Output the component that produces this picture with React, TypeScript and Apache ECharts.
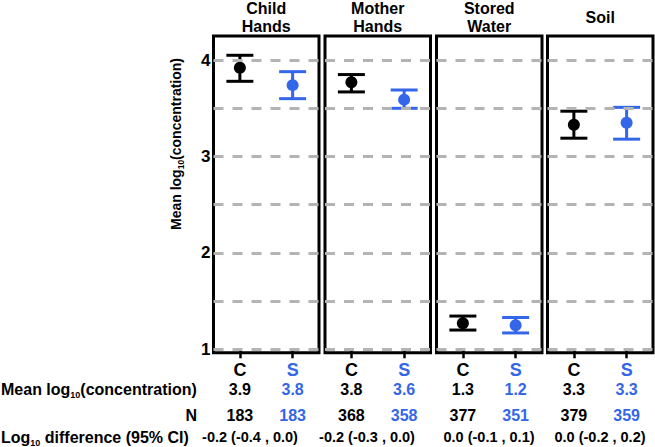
import React, { useEffect, useRef } from 'react';
import * as echarts from 'echarts';

// ---------- data ----------
const panels = ['Child\nHands', 'Mother\nHands', 'Stored\nWater', 'Soil'];
const groups = ['C', 'S'];
const meanC = [3.92, 3.77, 1.27, 3.33];
const lowC = [3.78, 3.67, 1.2, 3.19];
const highC = [4.05, 3.85, 1.345, 3.47];
const meanS = [3.74, 3.59, 1.25, 3.35];
const lowS = [3.6, 3.5, 1.17, 3.18];
const highS = [3.88, 3.69, 1.33, 3.51];
const meanLabelC = ['3.9', '3.8', '1.3', '3.3'];
const meanLabelS = ['3.8', '3.6', '1.2', '3.3'];
const nC = ['183', '368', '377', '379'];
const nS = ['183', '358', '351', '359'];
const diffLabels = ['-0.2 (-0.4 , 0.0)', '-0.2 (-0.3 , 0.0)', '0.0 (-0.1 , 0.1)', '0.0 (-0.2 , 0.2)'];
const gridLevels = [1, 1.5, 2, 2.5, 3, 3.5, 4];
const yTickLabels = [1, 2, 3, 4];

// ---------- layout / style ----------
const W = 655;
const H = 447;
const FONT = '"Liberation Sans", Arial, sans-serif';
const BLACK = '#000000';
const BLUE = '#3366e8';
const GRAY = '#b4b4b4';
const gridLeft = [213.5, 325, 436.5, 547.5];
const gridW = 105.5;
const gridTop = 36;
const gridH = 316.8;
const yMin = 0.964;
const yMax = 4.25;
const diffX = [250, 367, 489, 600];

export default function App() {
  const ref = useRef<HTMLDivElement>(null);

  useEffect(() => {
    if (!ref.current) return;
    const chart = echarts.init(ref.current, null, { renderer: 'svg' });

    const grids: any[] = [];
    const xAxes: any[] = [];
    const yAxes: any[] = [];
    const series: any[] = [];
    const graphics: any[] = [];

    panels.forEach((name, i) => {
      grids.push({
        left: gridLeft[i],
        top: gridTop,
        width: gridW,
        height: gridH,
        show: true,
        borderColor: BLACK,
        borderWidth: 3,
        backgroundColor: 'transparent',
      });
      xAxes.push({
        type: 'category',
        gridIndex: i,
        data: groups,
        offset: -3.5,
        axisLine: { show: false },
        axisTick: { show: true, alignWithLabel: true, length: 9, lineStyle: { color: BLACK, width: 2.5 } },
        axisLabel: {
          margin: 20.7,
          verticalAlign: 'middle',
          lineHeight: 16,
          fontFamily: FONT,
          fontWeight: 'bold',
          fontSize: 18,
          color: (v: string) => (v === 'S' ? BLUE : BLACK),
        },
        splitLine: { show: false },
      });
      yAxes.push({
        type: 'value',
        gridIndex: i,
        min: yMin,
        max: yMax,
        axisLine: { show: false },
        axisTick: { show: false },
        splitLine: { show: false },
        axisLabel: {
          show: i === 0,
          customValues: yTickLabels,
          margin: 3,
          fontFamily: FONT,
          fontWeight: 'bold',
          fontSize: 17,
          color: BLACK,
        },
      });
      // dashed gridlines
      series.push({
        type: 'scatter',
        xAxisIndex: i,
        yAxisIndex: i,
        data: [],
        z: 1,
        silent: true,
        markLine: {
          silent: true,
          symbol: ['none', 'none'],
          label: { show: false },
          emphasis: { disabled: true },
          lineStyle: { color: GRAY, width: 3, type: [10, 9] },
          data: gridLevels.map((v) => ({ yAxis: v })),
        },
      });
      // error bars
      series.push({
        type: 'custom',
        xAxisIndex: i,
        yAxisIndex: i,
        z: 3,
        silent: true,
        data: [
          [0, lowC[i], highC[i]],
          [1, lowS[i], highS[i]],
        ],
        encode: { x: 0, y: [1, 2] },
        renderItem: (params: any, api: any) => {
          const x = api.value(0);
          const pLo = api.coord([x, api.value(1)]);
          const pHi = api.coord([x, api.value(2)]);
          const color = params.dataIndex === 0 ? BLACK : BLUE;
          const hw = 13.5;
          const style = { stroke: color, lineWidth: 3 };
          return {
            type: 'group',
            children: [
              { type: 'line', shape: { x1: pLo[0], y1: pLo[1], x2: pHi[0], y2: pHi[1] }, style },
              { type: 'line', shape: { x1: pLo[0] - hw, y1: pLo[1], x2: pLo[0] + hw, y2: pLo[1] }, style },
              { type: 'line', shape: { x1: pHi[0] - hw, y1: pHi[1], x2: pHi[0] + hw, y2: pHi[1] }, style },
            ],
          };
        },
      });
      // mean points
      series.push({
        type: 'scatter',
        xAxisIndex: i,
        yAxisIndex: i,
        z: 4,
        silent: true,
        symbol: 'circle',
        symbolSize: 12,
        data: [
          [0, meanC[i]],
          [1, meanS[i]],
        ],
        itemStyle: { color: (p: any) => (p.dataIndex === 0 ? BLACK : BLUE), opacity: 1 },
      });

      const cx = gridLeft[i] + gridW / 2;
      const xC = gridLeft[i] + gridW / 4;
      const xS = gridLeft[i] + (gridW * 3) / 4;
      const lines = name.split('\n');
      const lineYs = lines.length === 1 ? [17] : [8.5, 26.5];
      lines.forEach((ln, k) => {
        graphics.push({
          type: 'text',
          x: cx,
          y: lineYs[k],
          style: {
            text: ln,
            fill: BLACK,
            font: `bold 16px ${FONT}`,
            align: 'center',
            verticalAlign: 'middle',
            lineHeight: 16,
          },
        });
      });
      const valRows: [string, string, number][] = [
        [meanLabelC[i], meanLabelS[i], 389.5],
        [nC[i], nS[i], 415],
      ];
      valRows.forEach(([c, s, y]) => {
        graphics.push({
          type: 'text',
          x: xC,
          y,
          style: { text: c, fill: BLACK, font: `bold 16px ${FONT}`, align: 'center', verticalAlign: 'middle' },
        });
        graphics.push({
          type: 'text',
          x: xS,
          y,
          style: { text: s, fill: BLUE, font: `bold 16px ${FONT}`, align: 'center', verticalAlign: 'middle' },
        });
      });
      graphics.push({
        type: 'text',
        x: diffX[i],
        y: 437,
        style: {
          text: diffLabels[i],
          fill: BLACK,
          font: `bold 14.5px ${FONT}`,
          align: 'center',
          verticalAlign: 'middle',
        },
      });
    });

    const richMain = (size: number, sub: number, lh: number) => ({
      m: { fontFamily: FONT, fontWeight: 'bold', fontSize: size, lineHeight: lh, fill: BLACK, color: BLACK },
      s: {
        fontFamily: FONT,
        fontWeight: 'bold',
        fontSize: sub,
        lineHeight: sub,
        verticalAlign: 'bottom',
        fill: BLACK,
        color: BLACK,
      },
    });

    // row labels
    graphics.push({
      type: 'text',
      x: 1,
      y: 389.5,
      style: {
        text: '{m|Mean log}{s|10}{m|(concentration)}',
        rich: richMain(16, 9, 20),
        align: 'left',
        verticalAlign: 'middle',
      },
    });
    graphics.push({
      type: 'text',
      x: 197,
      y: 415,
      style: { text: 'N', fill: BLACK, font: `bold 16px ${FONT}`, align: 'right', verticalAlign: 'middle' },
    });
    graphics.push({
      type: 'text',
      x: 1,
      y: 437,
      style: {
        text: '{m|Log}{s|10}{m| difference (95% CI)}',
        rich: richMain(16, 9, 20),
        align: 'left',
        verticalAlign: 'middle',
      },
    });
    // y axis title
    graphics.push({
      type: 'text',
      x: 176,
      y: 144,
      rotation: Math.PI / 2,
      style: {
        text: '{m|Mean log}{s|10}{m|(concentration)}',
        rich: richMain(14, 8.5, 18),
        align: 'center',
        verticalAlign: 'middle',
      },
    });

    chart.setOption({
      animation: false,
      backgroundColor: '#ffffff',
      grid: grids,
      xAxis: xAxes,
      yAxis: yAxes,
      series,
      graphic: { elements: graphics },
    });

    return () => chart.dispose();
  }, []);

  return (
    <div
      ref={ref}
      style={{ position: 'absolute', left: 0, top: 0, width: W, height: H }}
    />
  );
}
